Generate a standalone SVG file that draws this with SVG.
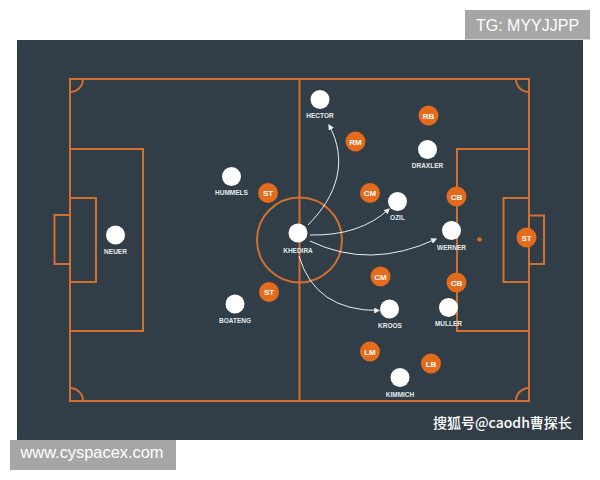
<svg xmlns="http://www.w3.org/2000/svg" width="600" height="480" viewBox="0 0 600 480">
<defs>
<style>
.ln{fill:none;stroke:#cf6f30;stroke-width:2}
.pl{fill:#ffffff}
.op{fill:#e46b1c}
.nm{font-family:"Liberation Sans",Arial,sans-serif;font-weight:bold;font-size:6.5px;fill:#e4eaee;text-anchor:middle}
.ot{font-family:"Liberation Sans",Arial,sans-serif;font-weight:bold;font-size:8px;fill:#ffffff;text-anchor:middle}
.ar{fill:none;stroke:#e8eef2;stroke-width:1;marker-end:url(#ah)}
</style>
<marker id="ah" viewBox="0 0 10 10" refX="8" refY="5" markerWidth="6" markerHeight="6" orient="auto" markerUnits="userSpaceOnUse">
<path d="M0,0 L10,5 L0,10 Z" fill="#e8eef2"/>
</marker>
</defs>
<rect width="600" height="480" fill="#ffffff"/>
<rect x="17" y="40" width="566" height="400" fill="#323e47"/>
<g id="pitch">
<rect class="ln" x="70" y="79" width="459" height="322"/>
<line class="ln" x1="299.5" y1="79" x2="299.5" y2="401"/>
<circle class="ln" cx="299.5" cy="240" r="42.5"/>
<rect class="ln" x="70" y="149" width="73" height="182"/>
<rect class="ln" x="70" y="198" width="26" height="84"/>
<rect class="ln" x="54.5" y="215" width="15.5" height="49"/>
<rect class="ln" x="457" y="149" width="72" height="182"/>
<rect class="ln" x="503.5" y="198" width="25.5" height="84"/>
<rect class="ln" x="529" y="215.5" width="15" height="48.5"/>
<circle cx="479.5" cy="239.5" r="2.3" fill="#cf6f30"/>
<path class="ln" d="M83,79 A13,13 0 0 1 70,92"/>
<path class="ln" d="M516,79 A13,13 0 0 0 529,92"/>
<path class="ln" d="M70,388 A13,13 0 0 1 83,401"/>
<path class="ln" d="M529,388 A13,13 0 0 0 516,401"/>
</g>
<g id="connectors">
<path class="ar" d="M308,225 C338,195 348,160 329,125"/>
<path class="ar" d="M310,235 Q360,236 389,209"/>
<path class="ar" d="M310,241 Q370,270 436,239"/>
<path class="ar" d="M299,256 Q315,311 379,310.5"/>
</g>
<g id="neuer"><circle class="pl" cx="115.5" cy="235" r="9.5"/><text class="nm" x="115.5" y="253.5">NEUER</text></g>
<g id="hummels"><circle class="pl" cx="231.5" cy="176.5" r="9.5"/><text class="nm" x="231.5" y="195">HUMMELS</text></g>
<g id="boateng"><circle class="pl" cx="235" cy="304" r="9.5"/><text class="nm" x="235" y="323">BOATENG</text></g>
<g id="khedira"><circle class="pl" cx="298" cy="233" r="9.5"/><text class="nm" x="298" y="252.5">KHEDIRA</text></g>
<g id="hector"><circle class="pl" cx="320" cy="99.5" r="9.5"/><text class="nm" x="320" y="118">HECTOR</text></g>
<g id="draxler"><circle class="pl" cx="427.5" cy="149.5" r="9.5"/><text class="nm" x="427.5" y="167.5">DRAXLER</text></g>
<g id="ozil"><circle class="pl" cx="397.5" cy="201.5" r="9.5"/><text class="nm" x="397.5" y="220">OZIL</text></g>
<g id="werner"><circle class="pl" cx="451.5" cy="230.5" r="9.5"/><text class="nm" x="451.5" y="249.5">WERNER</text></g>
<g id="kroos"><circle class="pl" cx="389.5" cy="309" r="9.5"/><text class="nm" x="390" y="328">KROOS</text></g>
<g id="muller"><circle class="pl" cx="448.5" cy="307.5" r="9.5"/><text class="nm" x="448.5" y="326">MULLER</text></g>
<g id="kimmich"><circle class="pl" cx="400" cy="377.5" r="9.5"/><text class="nm" x="400" y="396.5">KIMMICH</text></g>
<g id="st1"><circle class="op" cx="268" cy="193" r="10"/><text class="ot" x="268" y="196">ST</text></g>
<g id="st2"><circle class="op" cx="269" cy="292" r="10"/><text class="ot" x="269" y="295">ST</text></g>
<g id="st3"><circle class="op" cx="526.5" cy="237.5" r="10"/><text class="ot" x="526.5" y="240.5">ST</text></g>
<g id="rm"><circle class="op" cx="355.5" cy="141.5" r="10"/><text class="ot" x="355.5" y="144.5">RM</text></g>
<g id="rb"><circle class="op" cx="428.5" cy="115.5" r="10"/><text class="ot" x="428.5" y="118.5">RB</text></g>
<g id="cm1"><circle class="op" cx="370" cy="193" r="10"/><text class="ot" x="370" y="196">CM</text></g>
<g id="cm2"><circle class="op" cx="380.5" cy="276.5" r="10"/><text class="ot" x="380.5" y="279.5">CM</text></g>
<g id="cb1"><circle class="op" cx="456.5" cy="196.5" r="10"/><text class="ot" x="456.5" y="199.5">CB</text></g>
<g id="cb2"><circle class="op" cx="456.5" cy="282.5" r="10"/><text class="ot" x="456.5" y="285.5">CB</text></g>
<g id="lm"><circle class="op" cx="370" cy="351.5" r="10"/><text class="ot" x="370" y="354.5">LM</text></g>
<g id="lb"><circle class="op" cx="431" cy="363.5" r="10"/><text class="ot" x="431" y="366.5">LB</text></g>
<text x="433" y="428" font-family="'Noto Sans CJK SC','Noto Sans',sans-serif" font-size="14" font-weight="500" fill="#ffffff">搜狐号@caodh曹探长</text>
<rect x="465" y="10" width="125" height="29.5" fill="#a6a6a6"/>
<text x="476" y="30.5" font-family="'Liberation Sans',Arial,sans-serif" font-size="16" fill="#ffffff">TG: MYYJJPP</text>
<rect x="10" y="440" width="166" height="30" fill="#a6a6a6"/>
<text x="20.5" y="458" font-family="'Liberation Sans',Arial,sans-serif" font-size="16.4" fill="#ffffff">www.cyspacex.com</text>
</svg>
